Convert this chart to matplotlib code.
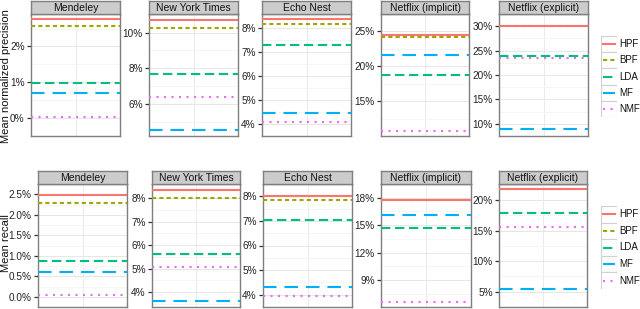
import matplotlib
matplotlib.use('Agg')
import matplotlib.pyplot as plt
from matplotlib.patches import Rectangle

plt.rcParams['font.family'] = ['Liberation Sans', 'DejaVu Sans']

datasets = ['Mendeley', 'New York Times', 'Echo Nest', 'Netflix (implicit)', 'Netflix (explicit)']
methods = ['HPF', 'BPF', 'LDA', 'MF', 'NMF']

# mean normalized precision (%)
hpf_prec = [2.77, 10.73, 8.38, 24.47, 30.13]
bpf_prec = [2.57, 10.28, 8.17, 24.26, 30.02]
lda_prec = [0.98, 7.65, 7.32, 18.73, 23.8]
mf_prec = [0.70, 4.50, 4.47, 21.6, 8.9]
nmf_prec = [0.04, 6.39, 4.09, 10.7, 23.5]

# mean recall (%)
hpf_rec = [2.47, 8.37, 8.03, 17.8, 21.8]
bpf_rec = [2.29, 8.03, 7.85, 17.72, 21.72]
lda_rec = [0.86, 5.64, 7.02, 14.66, 17.8]
mf_rec = [0.61, 3.60, 4.33, 16.16, 5.5]
nmf_rec = [0.035, 5.08, 3.93, 6.6, 15.6]

prec_ticks = [[0, 1, 2], [6, 8, 10], [4, 5, 6, 7, 8], [15, 20, 25], [10, 15, 20, 25, 30]]
rec_ticks = [[0, 0.5, 1.0, 1.5, 2.0, 2.5], [4, 5, 6, 7, 8], [4, 5, 6, 7, 8], [9, 12, 15, 18], [5, 10, 15, 20]]
prec_decimals = [0, 0, 0, 0, 0]
rec_decimals = [1, 0, 0, 0, 0]

colors = ['#F8766D', '#A3A500', '#00BF7D', '#00B0F6', '#E76BF3']
dashes = [None, (2, 1.5), (4.5, 2.2), (6.5, 3.8), (1, 2.6)]

W, H = 640, 309
fig = plt.figure(figsize=(W / 100, H / 100), dpi=100)


def px(x0, y0, x1, y1):
    return [x0 / W, 1 - y1 / H, (x1 - x0) / W, (y1 - y0) / H]


def draw_row(series, ticks, decimals, lefts, rights, top, bottom, strip_top):
    for i, name in enumerate(datasets):
        ax = fig.add_axes(px(lefts[i], top, rights[i], bottom))
        vals = [s[i] for s in series]
        lo, hi = min(vals), max(vals)
        pad = (hi - lo) * 0.05
        ax.set_ylim(lo - pad, hi + pad)
        ax.set_xlim(0, 1)
        for k, v in enumerate(vals):
            ln, = ax.plot([0, 1], [v, v], color=colors[k], lw=1.5, zorder=3 + (4 - k) * 0.1)
            if dashes[k] is not None:
                ln.set_dashes(dashes[k])
        tk = ticks[i]
        ax.set_yticks(tk)
        ax.set_yticklabels(['%.*f%%' % (decimals[i], t) for t in tk])
        step = tk[1] - tk[0]
        minor = [tk[0] - step / 2] + [t + step / 2 for t in tk]
        ax.set_yticks(minor, minor=True)
        ax.set_xticks([])
        ax.grid(axis='y', which='major', color='#e6e6e6', lw=0.7)
        ax.grid(axis='y', which='minor', color='#f5f5f5', lw=0.7)
        ax.axvline(0.5, color='#ebebeb', lw=0.7, zorder=0)
        ax.set_axisbelow(True)
        ax.tick_params(axis='y', which='major', length=3, width=0.9, color='#333333',
                       labelsize=7.2, labelcolor='#222222', pad=1.5)
        ax.tick_params(axis='y', which='minor', length=0)
        for sp in ax.spines.values():
            sp.set_color('#7f7f7f')
            sp.set_linewidth(1.0)
        sax = fig.add_axes(px(lefts[i], strip_top, rights[i], top))
        sax.set_facecolor('#cccccc')
        sax.set_xticks([])
        sax.set_yticks([])
        for sp in sax.spines.values():
            sp.set_color('#7f7f7f')
            sp.set_linewidth(1.0)
        sax.text(0.5, 0.45, name, ha='center', va='center', fontsize=7.5, color='#111111')


def draw_legend(x0, y0, x1, y1):
    lax = fig.add_axes(px(x0, y0, x1, y1))
    lax.set_xlim(0, 1)
    lax.set_ylim(0, 5)
    lax.axis('off')
    for k, m in enumerate(methods):
        yb = 4 - k
        lax.add_patch(Rectangle((0, yb), 1, 1, facecolor='white', edgecolor='#d0d0d0', lw=0.8))
        ln, = lax.plot([0.1, 0.9], [yb + 0.5, yb + 0.5], color=colors[k], lw=1.5)
        if dashes[k] is not None:
            ln.set_dashes(dashes[k])
        fig.text((x1 + 2) / W, 1 - (y0 + (k + 0.5) * (y1 - y0) / 5) / H, m,
                 ha='left', va='center', fontsize=7, color='#111111')


draw_row([hpf_prec, bpf_prec, lda_prec, mf_prec, nmf_prec], prec_ticks, prec_decimals,
         [31, 149, 262, 381, 499], [120, 238, 351, 469, 588], 14, 136, 0.5)
draw_row([hpf_rec, bpf_rec, lda_rec, mf_rec, nmf_rec], rec_ticks, rec_decimals,
         [38, 152, 263, 381, 499], [127, 240, 352, 471, 587], 184, 307, 171)

draw_legend(601, 36, 617, 117)
draw_legend(601, 206, 617, 289)

fig.text(6 / W, 1 - 76 / H, 'Mean normalized precision', rotation=90, ha='center', va='center',
         fontsize=8, color='#111111')
fig.text(6 / W, 1 - 243 / H, 'Mean recall', rotation=90, ha='center', va='center',
         fontsize=8, color='#111111')

fig.savefig('out.png', dpi=100)
